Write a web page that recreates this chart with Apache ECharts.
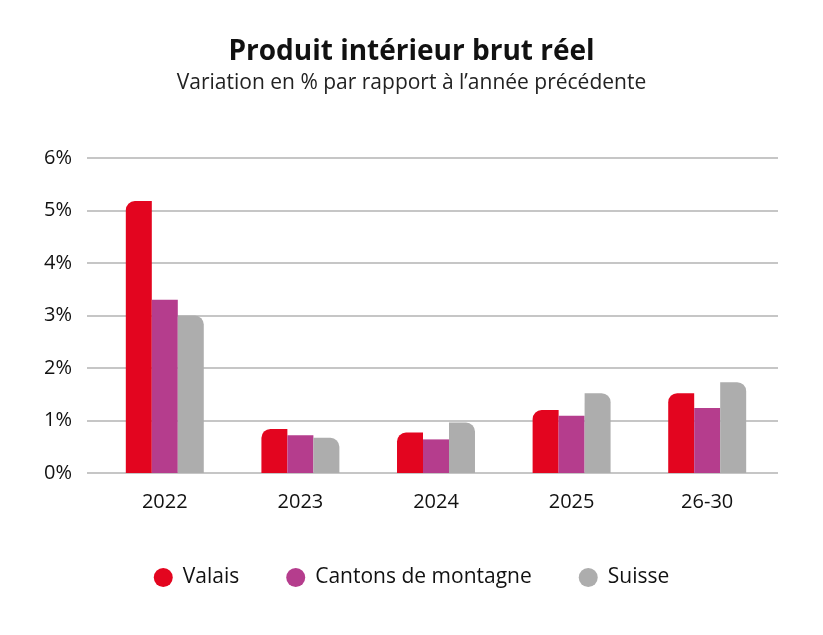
<!DOCTYPE html>
<html><head><meta charset="utf-8">
<script src="https://cdn.jsdelivr.net/npm/echarts@6/dist/echarts.min.js"></script>
<style>html,body{margin:0;padding:0;background:#fff}#c{width:823px;height:635px}</style>
</head><body><div id="c"></div>
<script>
const categories = ['2022', '2023', '2024', '2025', '26-30'];
const valais = [5.18, 0.84, 0.77, 1.2, 1.52];
const cantons = [3.3, 0.72, 0.64, 1.09, 1.24];
const suisse = [3.0, 0.67, 0.96, 1.52, 1.73];
const yTicks = [0, 1, 2, 3, 4, 5, 6];
const seriesNames = ['Valais', 'Cantons de montagne', 'Suisse'];

const FONT = 'Open Sans';
const chart = echarts.init(document.getElementById('c'));
chart.setOption({
  animation: false,
  textStyle: { fontFamily: FONT },
  title: {
    text: 'Produit intérieur brut réel',
    subtext: 'Variation en % par rapport à l’année précédente',
    left: 'center', top: 33, itemGap: 7,
    textStyle: { fontSize: 28, fontWeight: 'bold', color: '#111', fontFamily: FONT },
    subtextStyle: { fontSize: 21, color: '#222', fontFamily: FONT }
  },
  legend: {
    bottom: 42, left: 'center', itemGap: 47, itemWidth: 19, itemHeight: 19,
    icon: 'circle',
    textStyle: { fontSize: 21, color: '#111', fontFamily: FONT, padding: [0, 0, 0, 5] },
    data: seriesNames
  },
  grid: [
    { left: 87, right: 45, top: 158, bottom: 162 },
    { left: 97, right: 48, top: 158, bottom: 162 }
  ],
  xAxis: [
    { gridIndex: 0, type: 'value', show: false, min: 0, max: 1 },
    { gridIndex: 1, type: 'category', data: categories,
      axisLine: { show: false }, axisTick: { show: false },
      axisLabel: { fontSize: 20, color: '#111', margin: 19, fontFamily: FONT } }
  ],
  yAxis: [
    { gridIndex: 0, type: 'value', min: 0, max: 6, interval: 1,
      axisLine: { show: false }, axisTick: { show: false },
      axisLabel: { fontSize: 20, color: '#111', margin: 15, fontFamily: FONT,
        formatter: v => yTicks.includes(v) ? v + '%' : '' },
      splitLine: { lineStyle: { color: '#b3b3b3', width: 1.5 } } },
    { gridIndex: 1, type: 'value', min: 0, max: 6, interval: 1, show: false,
      splitLine: { show: false } }
  ],
  series: [
    { name: seriesNames[0], type: 'bar', xAxisIndex: 1, yAxisIndex: 1, data: valais,
      barGap: '0%', barCategoryGap: '42.5%',
      itemStyle: { color: '#E3051F', borderRadius: [9, 0, 0, 0] } },
    { name: seriesNames[1], type: 'bar', xAxisIndex: 1, yAxisIndex: 1, data: cantons,
      barGap: '0%', barCategoryGap: '42.5%',
      itemStyle: { color: '#B53D8D' } },
    { name: seriesNames[2], type: 'bar', xAxisIndex: 1, yAxisIndex: 1, data: suisse,
      barGap: '0%', barCategoryGap: '42.5%',
      itemStyle: { color: '#ADADAD', borderRadius: [0, 9, 0, 0] } }
  ]
});
</script></body></html>
